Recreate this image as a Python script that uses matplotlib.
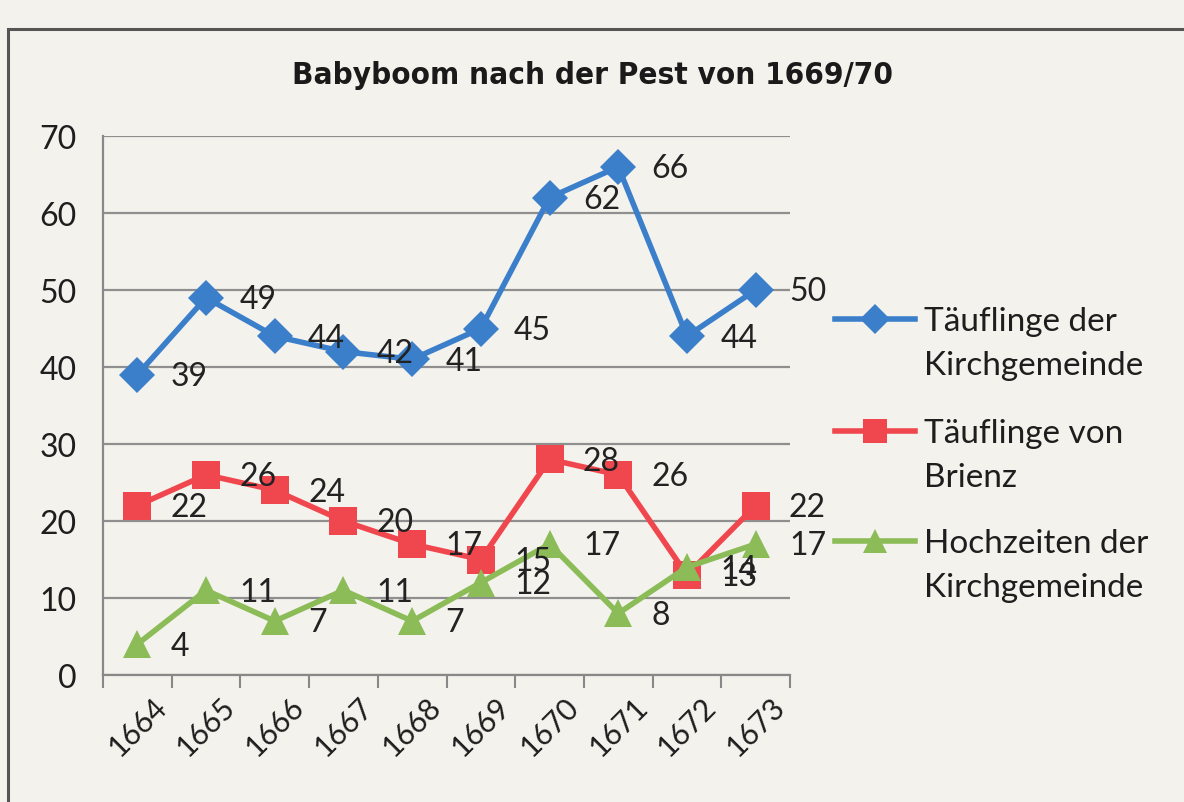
import matplotlib
matplotlib.use("Agg")
import matplotlib.pyplot as plt
from matplotlib import font_manager
from matplotlib.lines import Line2D
from matplotlib.patches import Rectangle

years = ["1664", "1665", "1666", "1667", "1668", "1669", "1670", "1671", "1672", "1673"]
taeuf_kirch = [39, 49, 44, 42, 41, 45, 62, 66, 44, 50]
taeuf_brienz = [22, 26, 24, 20, 17, 15, 28, 26, 13, 22]
hochzeiten = [4, 11, 7, 11, 7, 12, 17, 8, 14, 17]
series_names = ["Täuflinge der\nKirchgemeinde", "Täuflinge von\nBrienz", "Hochzeiten der\nKirchgemeinde"]
title = "Babyboom nach der Pest von 1669/70"

def has_font(name):
    try:
        font_manager.findfont(font_manager.FontProperties(family=name), fallback_to_default=False)
        return True
    except Exception:
        return False

body_font = "Lato" if has_font("Lato") else "DejaVu Sans"

# look for a condensed / narrow bold face for the title
title_prop = None
for f in font_manager.fontManager.ttflist:
    nm = f.name.lower()
    if ("narrow" in nm or "condensed" in nm or str(f.stretch) in ("condensed", "semi-condensed", "extra-condensed")) \
            and (f.weight in ("bold", 700) or str(f.weight) == "700"):
        title_prop = font_manager.FontProperties(fname=f.fname, size=22.5)
        break
if title_prop is None:
    title_prop = font_manager.FontProperties(family="Liberation Sans", weight="bold", size=24)

bg = "#f4f2ec"
fig = plt.figure(figsize=(11.84, 8.03), dpi=100, facecolor=bg)
ax = fig.add_axes([103/1184, 127/803, 687/1184, 539/803])
ax.set_facecolor(bg)

# outer border
fig.patches.append(Rectangle((8/1184, -0.05), 1.2, 1 - 30/803 + 0.05, transform=fig.transFigure,
                             fill=False, edgecolor="#555555", linewidth=2.2))

colors = ["#3b7fcb", "#f0474f", "#8cbc57"]
markers = ["D", "s", "^"]
msizes = [18, 20, 20]
lw = 4.0
fs = 23
x = list(range(len(years)))
for vals, c, m, ms, name in zip([taeuf_kirch, taeuf_brienz, hochzeiten], colors, markers, msizes, series_names):
    ax.plot(x, vals, color=c, linewidth=lw, marker=m, markersize=ms, markeredgewidth=0,
            label=name, zorder=3, clip_on=False)
    for xi, v in zip(x, vals):
        ax.annotate(str(v), (xi, v), xytext=(24, -1), textcoords="offset points",
                    ha="left", va="center", fontsize=fs, family=body_font, color="#222222", zorder=4)

ax.set_xlim(-0.5, len(years) - 0.5)
ax.set_ylim(0, 70)
ax.set_yticks(range(0, 71, 10))
ax.yaxis.grid(True, color="#8f8f8f", linewidth=1.6)
ax.set_axisbelow(True)
ax.set_xticks(x)
ax.set_xticklabels(years, rotation=45, ha="center", fontsize=21.5, family=body_font, color="#1e1e1e")
ax.set_xticks([i - 0.5 for i in range(len(years) + 1)], minor=True)
ax.tick_params(axis="x", which="major", length=0, pad=12)
ax.tick_params(axis="x", which="minor", length=9, width=1.5, color="#888888", direction="out")
ax.tick_params(axis="y", length=0, pad=19, labelsize=fs, labelcolor="#1e1e1e")
for lab in ax.get_yticklabels():
    lab.set_family(body_font)
for s in ["top", "right"]:
    ax.spines[s].set_visible(False)
for s in ["left", "bottom"]:
    ax.spines[s].set_color("#888888")
    ax.spines[s].set_linewidth(1.6)

fig.text(593/1184, 1 - 75/803, title, ha="center", va="center",
         fontproperties=title_prop, color="#1a1a1a")

# legend (Excel style: marker aligned with first text line)
W, H = 1184, 803
first_line_y = [320, 432, 542]
for c, m, ms, name, yl in zip(colors, markers, msizes, series_names, first_line_y):
    fig.add_artist(Line2D([835/W, 915/W], [1 - yl/H, 1 - yl/H], transform=fig.transFigure,
                          color=c, linewidth=lw))
    fig.add_artist(Line2D([875/W], [1 - yl/H], transform=fig.transFigure, color=c,
                          marker=m, markersize=ms * 0.85, markeredgewidth=0, linestyle="none"))
    fig.text(924/W, 1 - (yl - 13)/H, name, ha="left", va="top", fontsize=24,
             family=body_font, color="#1e1e1e", linespacing=1.6)

fig.savefig("out.png", dpi=100, facecolor=bg)
